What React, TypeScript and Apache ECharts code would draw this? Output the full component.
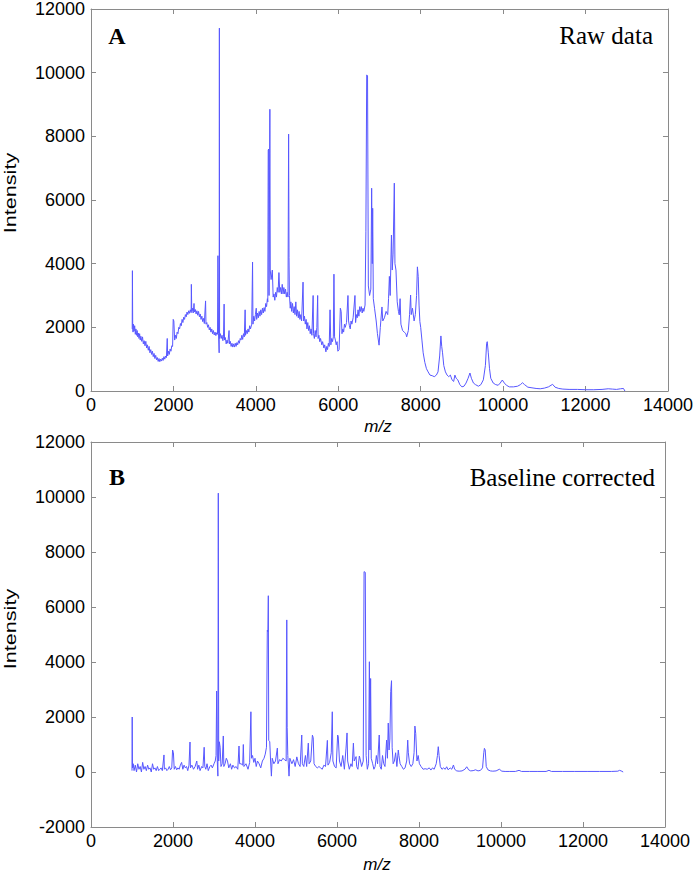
import React, { useEffect, useRef } from "react";
import * as echarts from "echarts";

// ---- axis ticks ----
const MZ_TICKS = [0, 2000, 4000, 6000, 8000, 10000, 12000, 14000];
const RAW_Y_TICKS = [0, 2000, 4000, 6000, 8000, 10000, 12000];
const CORR_Y_TICKS = [-2000, 0, 2000, 4000, 6000, 8000, 10000, 12000];

// ---- panel titles ----
const PANEL_A_LETTER = "A";
const PANEL_A_TITLE = "Raw data";
const PANEL_B_LETTER = "B";
const PANEL_B_TITLE = "Baseline corrected";
const X_NAME = "m/z";
const Y_NAME = "Intensity";

// ---- raw spectrum [m/z, intensity] ----
const rawSpectrum: [number, number][] = [
  [1000, 1950], [1005, 3780], [1012, 2000], [1020, 1850], [1030, 2100], [1045, 1880], [1060, 2050],
  [1075, 1780], [1090, 1950], [1105, 1750], [1120, 1900], [1135, 1700], [1150, 1820], [1165, 1650],
  [1180, 1800], [1195, 1600], [1210, 1720], [1230, 1560], [1250, 1700], [1270, 1480], [1290, 1580],
  [1310, 1420], [1330, 1560], [1350, 1350], [1370, 1450], [1390, 1280], [1410, 1400], [1430, 1200],
  [1450, 1300], [1470, 1150], [1490, 1250], [1510, 1080], [1530, 1180], [1550, 1020], [1570, 1120],
  [1590, 980], [1610, 1050], [1630, 930], [1650, 1020], [1670, 920], [1690, 1000], [1710, 940],
  [1730, 1030], [1750, 960], [1770, 1080], [1790, 1000], [1810, 1100], [1830, 1050], [1850, 1650],
  [1860, 1100], [1880, 1250], [1900, 1150], [1920, 1320], [1940, 1250], [1960, 1420], [1980, 1400],
  [1995, 2250], [2010, 2200], [2030, 1600], [2050, 1750], [2070, 1650], [2090, 1850], [2110, 1800],
  [2130, 2000], [2150, 1950], [2170, 2120], [2190, 2050], [2210, 2250], [2230, 2150], [2250, 2320],
  [2270, 2250], [2290, 2400], [2310, 2330], [2330, 2480], [2350, 2400], [2370, 2520], [2390, 2440],
  [2410, 2550], [2430, 2460], [2435, 3350], [2445, 2500], [2465, 2600], [2480, 2450], [2500, 2750],
  [2510, 2480], [2530, 2560], [2550, 2420], [2570, 2520], [2590, 2380], [2610, 2500], [2630, 2330],
  [2650, 2420], [2670, 2250], [2690, 2350], [2710, 2180], [2730, 2280], [2750, 2120], [2780, 2830],
  [2790, 2100], [2810, 2150], [2830, 2000], [2850, 2080], [2870, 1920], [2890, 2000], [2910, 1850],
  [2930, 1950], [2950, 1800], [2970, 1900], [2990, 1760], [3010, 1850], [3030, 1740], [3050, 1830],
  [3070, 1780], [3080, 4250], [3095, 1800], [3110, 1200], [3115, 11400], [3120, 1650], [3140, 1800],
  [3160, 1650], [3180, 1750], [3200, 1580], [3215, 1700], [3230, 2730], [3240, 1600], [3260, 1680],
  [3280, 1480], [3300, 1600], [3320, 1500], [3350, 1900], [3360, 1480], [3380, 1560], [3400, 1400],
  [3420, 1500], [3440, 1380], [3460, 1480], [3480, 1380], [3500, 1500], [3520, 1400], [3540, 1520],
  [3560, 1450], [3580, 1580], [3600, 1500], [3620, 1650], [3640, 1600], [3660, 1750], [3680, 1620],
  [3700, 1800], [3720, 1700], [3740, 2550], [3750, 1750], [3770, 1900], [3790, 1800], [3810, 1950],
  [3830, 1850], [3850, 2050], [3870, 1950], [3900, 2100], [3920, 4050], [3930, 2100], [3950, 2350],
  [3970, 2200], [3990, 2400], [4010, 2600], [4020, 2250], [4040, 2450], [4060, 2300], [4080, 2500],
  [4100, 2350], [4120, 2550], [4140, 2400], [4160, 2600], [4180, 2450], [4200, 2620], [4220, 2500],
  [4240, 2750], [4260, 2650], [4280, 2900], [4290, 2800], [4300, 7570], [4310, 7600], [4320, 3000],
  [4340, 8850], [4350, 3800], [4370, 3500], [4400, 3800], [4420, 2950], [4440, 3050], [4460, 2850],
  [4480, 3100], [4500, 2950], [4520, 3250], [4540, 3100], [4560, 3720], [4580, 3100], [4600, 3250],
  [4620, 3050], [4640, 3350], [4660, 3050], [4680, 3250], [4700, 3050], [4720, 3200], [4740, 2950],
  [4760, 3100], [4780, 2950], [4795, 8070], [4805, 4200], [4815, 3000], [4835, 2600], [4850, 2800],
  [4870, 2500], [4890, 2750], [4910, 2450], [4930, 2650], [4950, 2400], [4970, 2800], [4990, 2350],
  [5010, 2550], [5030, 2300], [5050, 2500], [5070, 2250], [5090, 2400], [5110, 2200], [5145, 3420],
  [5160, 2200], [5180, 2350], [5200, 2100], [5220, 2250], [5240, 1950], [5260, 2150], [5280, 1900],
  [5300, 2050], [5320, 1800], [5340, 1950], [5360, 1750], [5390, 3000], [5400, 1800], [5420, 1650],
  [5440, 1900], [5460, 1700], [5480, 2000], [5500, 3000], [5510, 1650], [5530, 1750], [5550, 1550],
  [5570, 1650], [5600, 1450], [5620, 1550], [5650, 1350], [5670, 1450], [5700, 1230], [5720, 1400],
  [5740, 1300], [5760, 1500], [5780, 1400], [5800, 2550], [5820, 1450], [5840, 1650], [5860, 1550],
  [5880, 1700], [5895, 3670], [5910, 1700], [5930, 1600], [5950, 1450], [5970, 1550], [5990, 1250],
  [6020, 1300], [6050, 2600], [6070, 2500], [6090, 1800], [6110, 1950], [6130, 1850], [6150, 2100],
  [6170, 2000], [6200, 2150], [6235, 3000], [6250, 2200], [6270, 2050], [6290, 1950], [6310, 2200],
  [6330, 2100], [6360, 2300], [6405, 3000], [6420, 2150], [6440, 2400], [6460, 2300], [6480, 2550],
  [6500, 2350], [6520, 2650], [6540, 2500], [6560, 2650], [6580, 2450], [6600, 2600], [6620, 2500],
  [6650, 2700], [6670, 5000], [6690, 9930], [6710, 9900], [6730, 3300], [6760, 3000], [6790, 3200],
  [6810, 6370], [6825, 4000], [6835, 5740], [6850, 2900], [6880, 2600], [6920, 2200], [6950, 1800],
  [6990, 1440], [7020, 2000], [7060, 2640], [7080, 2200], [7120, 2300], [7160, 2500], [7200, 2400],
  [7220, 2900], [7240, 3600], [7260, 3000], [7290, 4900], [7310, 3800], [7330, 4300], [7360, 6530],
  [7375, 4000], [7400, 3800], [7430, 2800], [7460, 2500], [7480, 2390], [7500, 2900], [7520, 2100],
  [7560, 1900], [7600, 1850], [7640, 1800], [7660, 1700], [7700, 1900], [7730, 2400], [7755, 3015],
  [7770, 2400], [7800, 2600], [7840, 2200], [7870, 2400], [7900, 3000], [7920, 3900], [7940, 3600],
  [7960, 2700], [7980, 2180], [8000, 2000], [8030, 1600], [8060, 1200], [8100, 900], [8140, 700],
  [8180, 600], [8225, 500], [8280, 480], [8330, 450], [8380, 500], [8420, 600], [8460, 1100],
  [8490, 1730], [8510, 1400], [8530, 1200], [8560, 800], [8600, 600], [8640, 500], [8680, 450],
  [8720, 500], [8760, 350], [8800, 300], [8830, 500], [8860, 400], [8900, 350], [8950, 200],
  [9000, 130], [9050, 150], [9100, 250], [9150, 400], [9195, 565], [9230, 400], [9280, 250],
  [9330, 200], [9400, 150], [9460, 200], [9520, 350], [9570, 800], [9600, 1500], [9615, 1550],
  [9640, 1200], [9670, 700], [9700, 400], [9760, 250], [9820, 200], [9880, 180], [9930, 250],
  [9980, 345], [10030, 250], [10080, 180], [10150, 130], [10250, 130], [10350, 150], [10420, 200],
  [10470, 260], [10520, 200], [10600, 120], [10700, 100], [10800, 80], [10900, 70], [11000, 90],
  [11100, 130], [11200, 210], [11260, 120], [11350, 80], [11450, 60], [11600, 50], [11800, 50],
  [12000, 40], [12200, 40], [12400, 50], [12550, 70], [12650, 60], [12750, 50], [12850, 70],
  [12920, 80], [12955, 0],
];

// ---- baseline-corrected spectrum [m/z, intensity] ----
const correctedSpectrum: [number, number][] = [
  [1000, 50], [1005, 2000], [1012, 150], [1030, 300], [1050, 50], [1080, 250], [1110, 0], [1140, 300],
  [1170, 100], [1200, 200], [1230, 0], [1260, 350], [1290, 100], [1320, 200], [1350, 50], [1380, 250],
  [1410, 100], [1440, 150], [1470, 0], [1500, 300], [1530, 100], [1560, 150], [1590, 50], [1620, 200],
  [1650, 50], [1680, 100], [1710, 150], [1740, 50], [1780, 620], [1790, 100], [1820, 150], [1850, 50],
  [1880, 100], [1910, 200], [1940, 80], [1970, 150], [1990, 800], [2010, 700], [2030, 100], [2060, 200],
  [2090, 80], [2120, 150], [2150, 100], [2180, 250], [2210, 350], [2240, 100], [2270, 250], [2300, 150],
  [2330, 200], [2360, 50], [2390, 250], [2415, 1090], [2425, 150], [2460, 250], [2500, 100], [2540, 200],
  [2580, 400], [2600, 100], [2630, 250], [2660, 50], [2700, 200], [2730, 150], [2760, 900], [2775, 200],
  [2800, 100], [2830, 300], [2860, 50], [2900, 200], [2930, 250], [2960, 150], [3000, 300], [3030, 400],
  [3050, 600], [3065, 2945], [3080, 400], [3095, -150], [3105, 10140], [3115, 400], [3130, 1100],
  [3150, 900], [3170, 200], [3200, 300], [3227, 1310], [3240, 200], [3270, 300], [3300, 500], [3330, 400],
  [3360, 150], [3400, 300], [3430, 100], [3460, 250], [3500, 150], [3540, 200], [3580, 100], [3610, 945],
  [3625, 300], [3660, 300], [3700, 250], [3715, 1000], [3730, 200], [3780, 300], [3830, 100], [3870, 350],
  [3900, 2190], [3915, 500], [3940, 600], [3970, 350], [4000, 500], [4030, 200], [4060, 400], [4100, 300],
  [4140, 150], [4180, 400], [4220, 500], [4250, 650], [4280, 900], [4300, 5160], [4315, 5100],
  [4325, 6410], [4335, 1150], [4360, 1100], [4380, 400], [4400, -150], [4420, 500], [4460, 300],
  [4500, 400], [4545, 870], [4560, 300], [4600, 450], [4640, 400], [4680, 500], [4720, 450], [4760, 400],
  [4775, 5530], [4785, 1610], [4800, 600], [4830, -150], [4850, 500], [4900, 300], [4940, 450],
  [4980, 200], [5020, 550], [5060, 300], [5100, 200], [5140, 1345], [5155, 300], [5190, 200], [5230, 600],
  [5260, 200], [5300, 1050], [5320, 300], [5360, 400], [5400, 1340], [5420, 1250], [5440, 300],
  [5480, 200], [5520, 150], [5560, 200], [5600, 150], [5640, 100], [5680, 250], [5720, 200], [5765, 1150],
  [5780, 250], [5820, 350], [5860, 700], [5885, 2190], [5900, 400], [5940, 200], [5980, 150],
  [6015, 1345], [6030, 1300], [6060, 400], [6100, 200], [6140, 600], [6180, 100], [6220, 870],
  [6245, 1420], [6260, 400], [6300, 100], [6340, 300], [6370, 200], [6400, 1050], [6420, 400],
  [6465, 560], [6480, 200], [6510, 100], [6545, 580], [6560, 500], [6600, 200], [6640, 400],
  [6660, 7285], [6690, 7260], [6710, 600], [6740, 100], [6770, 300], [6790, 4010], [6805, 800],
  [6820, 3400], [6835, 500], [6870, 300], [6900, 100], [6930, 200], [6960, 600], [6990, 300],
  [7030, 1345], [7050, 200], [7080, 100], [7110, 600], [7140, 300], [7170, 200], [7210, 1160],
  [7230, 500], [7250, 1780], [7270, 800], [7290, 1200], [7310, 2920], [7330, 3320], [7345, 900],
  [7370, 300], [7400, 400], [7430, 700], [7460, 200], [7495, 800], [7510, 600], [7540, 300], [7580, 200],
  [7620, 100], [7660, 150], [7700, 400], [7725, 1160], [7740, 700], [7770, 300], [7810, 200], [7850, 300],
  [7880, 700], [7900, 1670], [7920, 1400], [7950, 400], [7980, 600], [8010, 300], [8050, 200],
  [8100, 100], [8150, 120], [8200, 100], [8250, 150], [8290, 70], [8330, 150], [8370, 100], [8420, 300],
  [8450, 600], [8470, 920], [8490, 600], [8520, 200], [8560, 100], [8600, 150], [8640, 100], [8675, 190],
  [8710, 80], [8760, 150], [8800, 100], [8840, 255], [8870, 100], [8920, 40], [8980, 30], [9050, 40],
  [9120, 100], [9165, 190], [9210, 80], [9260, 40], [9320, 50], [9380, 80], [9440, 40], [9500, 60],
  [9550, 150], [9580, 700], [9595, 860], [9615, 800], [9640, 200], [9680, 80], [9740, 40], [9800, 30],
  [9880, 40], [9960, 100], [10020, 30], [10100, 20], [10200, 20], [10350, 20], [10440, 60], [10500, 20],
  [10700, 20], [10900, 20], [11100, 20], [11170, 60], [11230, 20], [11500, 20], [11800, 20], [12100, 20],
  [12400, 20], [12700, 20], [12850, 30], [12890, 60], [12930, 40], [12980, 0],
];

const LINE_COLOR = "#5757ff";
const FRAME_COLOR = "#8a8a8a";
const SANS = "'Liberation Sans', Arial, Helvetica, sans-serif";
const SERIF = "'Liberation Serif', 'Times New Roman', Times, serif";

function xAxisFor(gridIndex: number, position: "top" | "bottom") {
  const showLabels = position === "bottom";
  return {
    type: "value",
    gridIndex,
    position,
    min: MZ_TICKS[0],
    max: MZ_TICKS[MZ_TICKS.length - 1],
    interval: MZ_TICKS[1] - MZ_TICKS[0],
    axisLine: { show: true, onZero: false, lineStyle: { color: FRAME_COLOR, width: 1 } },
    axisTick: { show: true, inside: true, length: 5, lineStyle: { color: FRAME_COLOR, width: 1 } },
    axisLabel: showLabels
      ? {
          show: true,
          margin: 5,
          color: "#000",
          fontFamily: SANS,
          fontSize: 18,
          showMinLabel: true,
          showMaxLabel: true,
          formatter: (v: number) => String(v),
        }
      : { show: false },
    splitLine: { show: false },
  };
}

function yAxisFor(gridIndex: number, position: "left" | "right", ticks: number[]) {
  const showLabels = position === "left";
  return {
    type: "value",
    gridIndex,
    position,
    min: ticks[0],
    max: ticks[ticks.length - 1],
    interval: ticks[1] - ticks[0],
    axisLine: { show: true, onZero: false, lineStyle: { color: FRAME_COLOR, width: 1 } },
    axisTick: { show: true, inside: true, length: 5, lineStyle: { color: FRAME_COLOR, width: 1 } },
    axisLabel: showLabels
      ? {
          show: true,
          margin: 6,
          color: "#000",
          fontFamily: SANS,
          fontSize: 18,
          showMinLabel: true,
          showMaxLabel: true,
          formatter: (v: number) => String(v),
        }
      : { show: false },
    splitLine: { show: false },
  };
}

export default function App() {
  const ref = useRef<HTMLDivElement>(null);

  useEffect(() => {
    if (!ref.current) return;
    const chart = echarts.init(ref.current, null, { renderer: "svg" });

    const option: any = {
      animation: false,
      backgroundColor: "#ffffff",
      grid: [
        { left: 91, top: 9, width: 577, height: 382, show: false },
        { left: 91, top: 442, width: 574, height: 385, show: false },
      ],
      xAxis: [
        xAxisFor(0, "bottom"),
        xAxisFor(0, "top"),
        xAxisFor(1, "bottom"),
        xAxisFor(1, "top"),
      ],
      yAxis: [
        yAxisFor(0, "left", RAW_Y_TICKS),
        yAxisFor(0, "right", RAW_Y_TICKS),
        yAxisFor(1, "left", CORR_Y_TICKS),
        yAxisFor(1, "right", CORR_Y_TICKS),
      ],
      series: [
        {
          name: PANEL_A_TITLE,
          type: "line",
          xAxisIndex: 0,
          yAxisIndex: 0,
          data: rawSpectrum,
          symbol: "none",
          showSymbol: false,
          lineStyle: { color: LINE_COLOR, width: 1 },
          silent: true,
        },
        {
          name: PANEL_B_TITLE,
          type: "line",
          xAxisIndex: 2,
          yAxisIndex: 2,
          data: correctedSpectrum,
          symbol: "none",
          showSymbol: false,
          lineStyle: { color: LINE_COLOR, width: 1 },
          silent: true,
        },
      ],
      graphic: [
        {
          type: "text",
          x: 117,
          y: 35.5,
          style: {
            text: PANEL_A_LETTER,
            font: `bold 24px ${SERIF}`,
            fill: "#000",
            textAlign: "center",
            textVerticalAlign: "middle",
          },
        },
        {
          type: "text",
          x: 653,
          y: 35,
          style: {
            text: PANEL_A_TITLE,
            font: `25px ${SERIF}`,
            fill: "#000",
            textAlign: "right",
            textVerticalAlign: "middle",
          },
        },
        {
          type: "text",
          x: 117,
          y: 476.5,
          style: {
            text: PANEL_B_LETTER,
            font: `bold 24px ${SERIF}`,
            fill: "#000",
            textAlign: "center",
            textVerticalAlign: "middle",
          },
        },
        {
          type: "text",
          x: 655,
          y: 477,
          style: {
            text: PANEL_B_TITLE,
            font: `25px ${SERIF}`,
            fill: "#000",
            textAlign: "right",
            textVerticalAlign: "middle",
          },
        },
        {
          type: "text",
          x: 378,
          y: 426,
          style: {
            text: X_NAME,
            font: `italic 17px ${SANS}`,
            fill: "#000",
            textAlign: "center",
            textVerticalAlign: "middle",
          },
        },
        {
          type: "text",
          x: 377,
          y: 864,
          style: {
            text: X_NAME,
            font: `italic 17px ${SANS}`,
            fill: "#000",
            textAlign: "center",
            textVerticalAlign: "middle",
          },
        },
        {
          type: "text",
          x: 10.5,
          y: 193,
          rotation: Math.PI / 2,
          scaleX: 1.35,
          style: {
            text: Y_NAME,
            font: `16px ${SANS}`,
            fill: "#000",
            textAlign: "center",
            textVerticalAlign: "middle",
          },
        },
        {
          type: "text",
          x: 10.5,
          y: 629,
          rotation: Math.PI / 2,
          scaleX: 1.35,
          style: {
            text: Y_NAME,
            font: `16px ${SANS}`,
            fill: "#000",
            textAlign: "center",
            textVerticalAlign: "middle",
          },
        },
      ],
    };

    chart.setOption(option);
    return () => chart.dispose();
  }, []);

  return (
    <div
      ref={ref}
      style={{ position: "fixed", left: 0, top: 0, width: 696, height: 876, background: "#fff" }}
    />
  );
}
